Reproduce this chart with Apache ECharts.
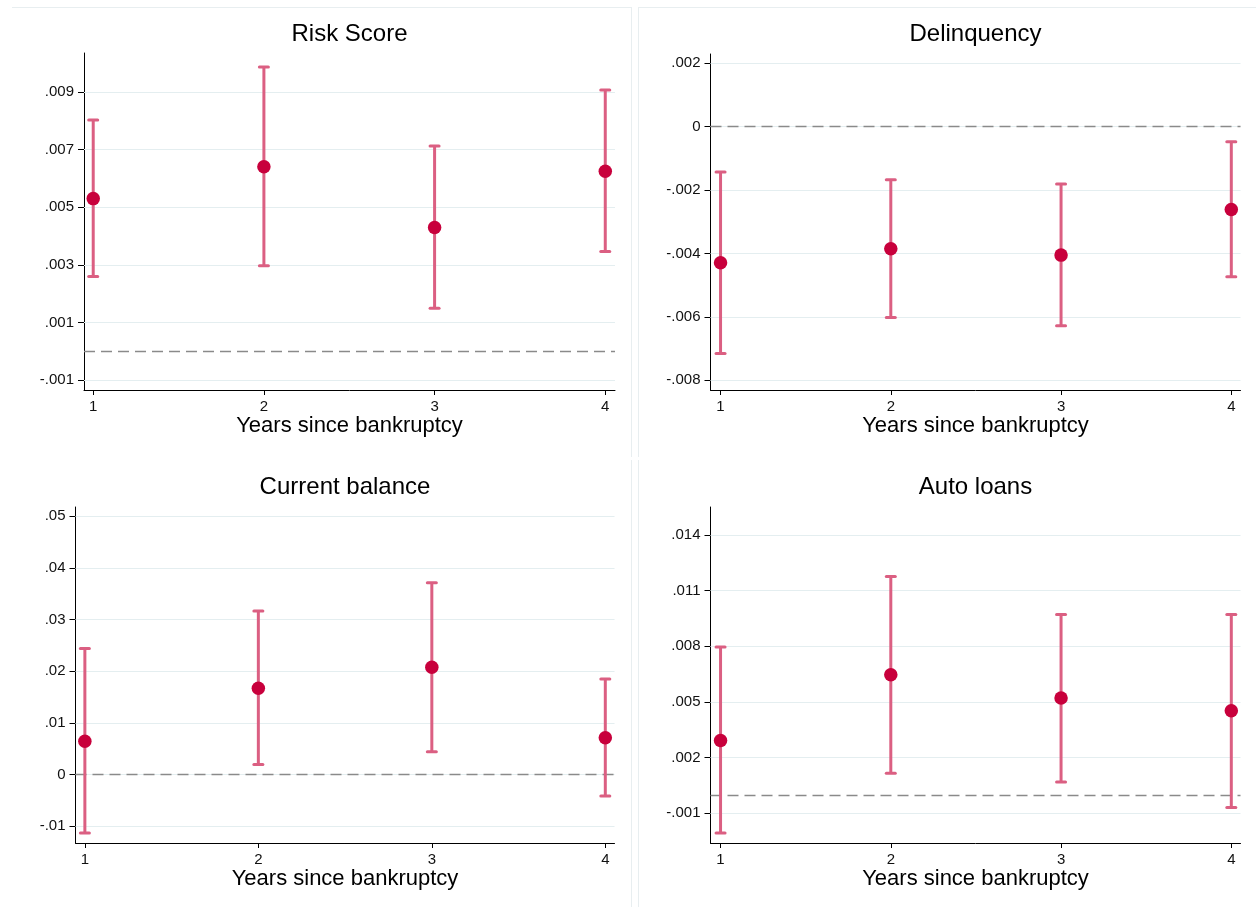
<!DOCTYPE html>
<html>
<head>
<meta charset="utf-8">
<script src="https://cdn.jsdelivr.net/npm/echarts@6/dist/echarts.min.js"></script>
<style>
  html, body { margin: 0; padding: 0; background: #ffffff; }
  #chart { width: 1256px; height: 907px; }
</style>
</head>
<body>
<div id="chart"></div>
<script>
// ---------------- DATA ----------------
const years = [1, 2, 3, 4];
const xAxisName = 'Years since bankruptcy';
const panelTitles = ['Risk Score', 'Delinquency', 'Current balance', 'Auto loans'];

const riskEst = [0.00530, 0.00641, 0.00430, 0.00625];
const riskLo  = [0.00259, 0.00297, 0.00149, 0.00346];
const riskHi  = [0.00803, 0.00987, 0.00713, 0.00907];

const delEst = [-0.00429, -0.00385, -0.00405, -0.00261];
const delLo  = [-0.00715, -0.00602, -0.00628, -0.00473];
const delHi  = [-0.00143, -0.00167, -0.00181, -0.00047];

const balEst = [0.00645, 0.01671, 0.02077, 0.00716];
const balLo  = [-0.01129, 0.00194, 0.00445, -0.00413];
const balHi  = [0.02439, 0.03168, 0.03716, 0.01852];

const autoEst = [0.00293, 0.00647, 0.00522, 0.00453];
const autoLo  = [-0.00206, 0.00116, 0.00069, -0.00069];
const autoHi  = [0.00796, 0.01177, 0.00971, 0.00972];

const riskTicks = [-0.001, 0.001, 0.003, 0.005, 0.007, 0.009];
const riskTickLabels = ['-.001', '.001', '.003', '.005', '.007', '.009'];
const delTicks = [-0.008, -0.006, -0.004, -0.002, 0, 0.002];
const delTickLabels = ['-.008', '-.006', '-.004', '-.002', '0', '.002'];
const balTicks = [-0.01, 0, 0.01, 0.02, 0.03, 0.04, 0.05];
const balTickLabels = ['-.01', '0', '.01', '.02', '.03', '.04', '.05'];
const autoTicks = [-0.001, 0.002, 0.005, 0.008, 0.011, 0.014];
const autoTickLabels = ['-.001', '.002', '.005', '.008', '.011', '.014'];

const refValue = 0;

// ---------------- STYLE / LAYOUT ----------------
const FONT = '"Liberation Sans", Arial, Helvetica, sans-serif';
const barColor = '#db5f82';
const dotColor = '#c8003c';
const gridColor = '#e4eef0';
const borderColor = '#e8eef0';

const panels = [
  { est: riskEst, lo: riskLo, hi: riskHi, ticks: riskTicks, labels: riskTickLabels,
    grid: { left: 84, top: 53, width: 531, height: 337 }, x: [0.946, 4.057], y: [-0.00135, 0.01036] },
  { est: delEst, lo: delLo, hi: delHi, ticks: delTicks, labels: delTickLabels,
    grid: { left: 710.5, top: 54, width: 530, height: 336 }, x: [0.941, 4.054], y: [-0.008305, 0.002295] },
  { est: balEst, lo: balLo, hi: balHi, ticks: balTicks, labels: balTickLabels,
    grid: { left: 75.5, top: 507, width: 539, height: 336 }, x: [0.946, 4.053], y: [-0.01323, 0.0518] },
  { est: autoEst, lo: autoLo, hi: autoHi, ticks: autoTicks, labels: autoTickLabels,
    grid: { left: 710.5, top: 507, width: 530, height: 336 }, x: [0.941, 4.054], y: [-0.0026, 0.01551] }
];

function errRender(params, api) {
  const x = api.value(0), lo = api.value(1), hi = api.value(2);
  const pLo = api.coord([x, lo]);
  const pHi = api.coord([x, hi]);
  const hw = 4.5;
  const st = { stroke: barColor, lineWidth: 3, lineCap: 'butt' };
  const cap = { stroke: barColor, lineWidth: 3, lineCap: 'round' };
  return {
    type: 'group',
    children: [
      { type: 'line', shape: { x1: pLo[0], y1: pLo[1], x2: pHi[0], y2: pHi[1] }, style: st },
      { type: 'line', shape: { x1: pLo[0] - hw, y1: pLo[1], x2: pLo[0] + hw, y2: pLo[1] }, style: cap },
      { type: 'line', shape: { x1: pHi[0] - hw, y1: pHi[1], x2: pHi[0] + hw, y2: pHi[1] }, style: cap }
    ]
  };
}

const grids = [], xAxes = [], yAxes = [], series = [], graphics = [];

panels.forEach((p, i) => {
  grids.push(Object.assign({ containLabel: false }, p.grid));
  xAxes.push({
    type: 'value', gridIndex: i, min: p.x[0], max: p.x[1],
    name: xAxisName, nameLocation: 'middle', nameGap: 22,
    nameTextStyle: { fontFamily: FONT, fontSize: 22, color: '#000' },
    axisLine: { show: true, onZero: false, lineStyle: { color: '#000', width: 1 } },
    axisTick: { show: true, length: 5, lineStyle: { color: '#000' }, customValues: years },
    axisLabel: { show: true, customValues: years, margin: 9, fontFamily: FONT, fontSize: 15, color: '#111',
      formatter: v => String(Math.round(v)) },
    splitLine: { show: false }
  });
  yAxes.push({
    type: 'value', gridIndex: i, min: p.y[0], max: p.y[1],
    axisLine: { show: true, onZero: false, lineStyle: { color: '#000', width: 1 } },
    axisTick: { show: true, length: 6, lineStyle: { color: '#000' }, customValues: p.ticks },
    axisLabel: { show: true, customValues: p.ticks, margin: 10, fontFamily: FONT, fontSize: 15, color: '#111',
      formatter: v => {
        let best = 0;
        p.ticks.forEach((t, k) => { if (Math.abs(t - v) < Math.abs(p.ticks[best] - v)) best = k; });
        return p.labels[best];
      } },
    splitLine: { show: false }
  });
  // gridlines + reference line
  series.push({
    type: 'line', xAxisIndex: i, yAxisIndex: i, data: [], z: 1, silent: true,
    markLine: {
      silent: true, symbol: 'none', animation: false, precision: 8, z: 1,
      label: { show: false },
      data: p.ticks.map(t => ({ yAxis: t, lineStyle: { color: gridColor, width: 1.2, type: 'solid' } }))
        .concat([{ yAxis: refValue, lineStyle: { color: '#8a8a8a', width: 1.3, type: [11, 6] } }])
    }
  });
  series.push({
    type: 'custom', xAxisIndex: i, yAxisIndex: i, z: 6, silent: true,
    renderItem: errRender,
    encode: { x: 0, y: [1, 2] },
    data: years.map((yr, k) => [yr, p.lo[k], p.hi[k]])
  });
  series.push({
    type: 'scatter', xAxisIndex: i, yAxisIndex: i, z: 7, silent: true,
    symbol: 'circle', symbolSize: 13.5,
    itemStyle: { color: dotColor, opacity: 1 },
    data: years.map((yr, k) => [yr, p.est[k]])
  });
  const cx = p.grid.left + p.grid.width / 2;
  const cy = i < 2 ? 34 : 487;
  graphics.push({
    type: 'text', x: cx, y: cy, silent: true,
    style: { text: panelTitles[i], fontFamily: FONT, fontSize: 24, fill: '#000', align: 'center', verticalAlign: 'middle' }
  });
});

// faint panel borders
const bl = (x1, y1, x2, y2) => ({ type: 'line', silent: true, z: -1,
  shape: { x1, y1, x2, y2 }, style: { stroke: borderColor, lineWidth: 1 } });
graphics.push(bl(12, 7.5, 632, 7.5), bl(638, 7.5, 1256, 7.5));
graphics.push(bl(631.5, 7, 631.5, 457), bl(638.5, 7, 638.5, 457));
graphics.push(bl(631.5, 460, 631.5, 907), bl(638.5, 460, 638.5, 907));

const chart = echarts.init(document.getElementById('chart'), null, { renderer: 'canvas' });
chart.setOption({
  backgroundColor: '#ffffff',
  animation: false,
  grid: grids,
  xAxis: xAxes,
  yAxis: yAxes,
  series: series,
  graphic: graphics
});
</script>
</body>
</html>
